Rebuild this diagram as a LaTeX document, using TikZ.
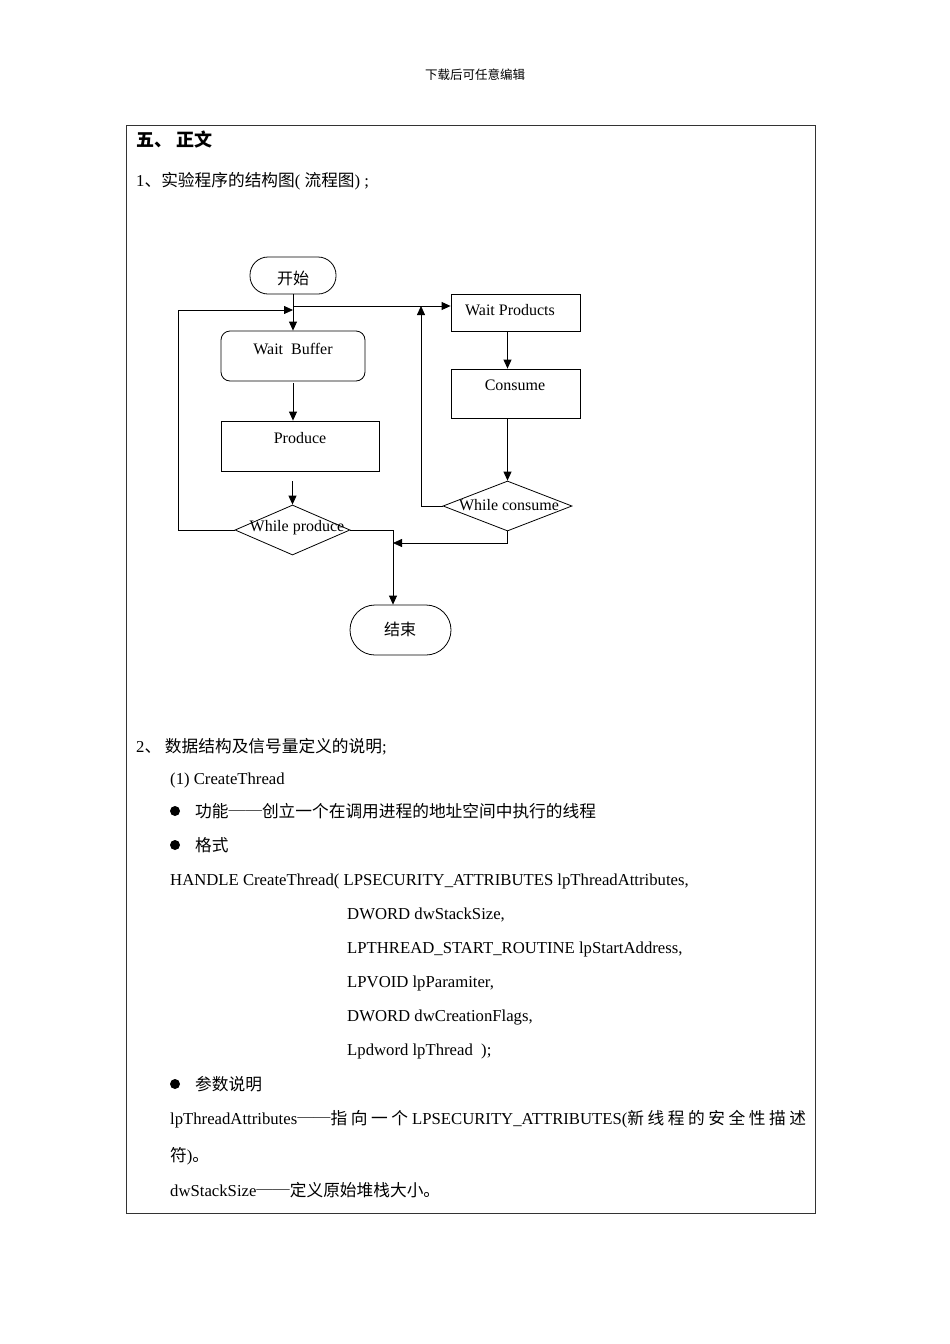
\documentclass[tikz,border=0pt]{standalone}
\usepackage{fontspec}
\setmainfont{Liberation Serif}
\newfontfamily\zhfont{Noto Sans CJK SC}
\newcommand\zh[1]{{\zhfont #1}}
\usetikzlibrary{shapes.geometric}
\usetikzlibrary{arrows.meta}
\tikzstyle{process}=[draw, line width=0.8pt, inner sep=0]
\tikzstyle{terminal}=[process, rounded corners=18pt]
\tikzstyle{decision}=[process, diamond]
\tikzstyle{line}=[line width=0.8pt]
\tikzstyle{flow}=[line, -{Triangle[length=9pt,width=8pt]}]
\tikzstyle{label}=[font=\fontsize{16}{18}\selectfont]
\tikzstyle{txt}=[anchor=base west, inner sep=0, font=\fontsize{16.7}{20}\selectfont]
\tikzstyle{dot}=[circle, fill, inner sep=0, minimum size=10pt]

\begin{document}
\begin{tikzpicture}[x=1pt, y=-1pt]
      \useasboundingbox (0,0) rectangle (950,1344);

      \node[txt, anchor=base, font=\fontsize{12.5}{14}\selectfont] (header) at (475,79) {\zh{下载后可任意编辑}};
      \draw[line, black!80] (126,125) rectangle (815,1213);

      \node[txt, font=\fontsize{18}{20}\selectfont] (title) at (136,146) {\zh{\bfseries 五、 正文}};
      \node[txt] (sec1) at (136,186) {1\zh{、实验程序的结构图}( \zh{流程图}) ;};

      % flow chart
      \node[terminal, minimum width=86pt, minimum height=37pt] (start) at (293,275.5) {};
      \node[label] at (293,278) {\zh{开始}};

      \node[process, rounded corners=9pt, minimum width=144pt, minimum height=50pt] (waitbuf) at (293,356) {};
      \node[label] at (293,349) {Wait\ \ Buffer};

      \node[process, minimum width=158pt, minimum height=50pt] (produce) at (300,446) {};
      \node[label] at (300,438) {Produce};

      \node[decision, minimum width=115pt, minimum height=50pt] (whileprod) at (292.5,530) {};
      \node[label] at (297,528) {While produce};

      \node[process, minimum width=129pt, minimum height=37pt] (waitprod) at (515.5,312.5) {};
      \node[label] at (510,310) {Wait Products};

      \node[process, minimum width=129pt, minimum height=49pt] (consume) at (515.5,393.5) {};
      \node[label] at (515,385) {Consume};

      \node[decision, minimum width=129pt, minimum height=50pt] (whilecons) at (507.5,506) {};
      \node[label] at (509,505) {While consume};

      \node[terminal, rounded corners=25pt, minimum width=101pt, minimum height=50pt] (end) at (400.5,630) {};
      \node[label] at (400,629) {\zh{结束}};

      \coordinate (split) at (293,306);
      \coordinate (loopL) at (178,310);
      \coordinate (loopR) at (421,306);
      \coordinate (merge) at (393,543);

      \draw[flow] (start.south) -- (waitbuf.north);
      \draw[flow] (split) -- (split -| waitprod.west);
      \draw[flow] (whileprod.west) -| (loopL) -- (waitbuf.north |- loopL);
      \draw[flow] ([yshift=-2pt]waitbuf.south) -- (waitbuf.south |- produce.north);
      \draw[flow] ([yshift=-10pt]produce.south -| whileprod.north) -- (whileprod.north);
      \draw[flow] (waitprod.south -| whilecons.north) -- (consume.north -| whilecons.north);
      \draw[flow] (consume.south -| whilecons.north) -- (whilecons.north);
      \draw[flow] (whilecons.west) -- (loopR |- whilecons.west) -- (loopR);
      \draw[flow] (whilecons.south) |- (merge);
      \draw[flow] (whileprod.east) -| (merge |- end.north);

      % description
      \node[txt] (sec2) at (136,752) {2\zh{、 数据结构及信号量定义的说明};};
      \node[txt] (ct) at (170,784) {(1) CreateThread};
      \node[dot] (b1) at (175,811) {};
      \node[txt] (func) at (195,817) {\zh{功能──创立一个在调用进程的地址空间中执行的线程}};
      \node[dot] (b2) at (175,845) {};
      \node[txt] (fmt) at (195,851) {\zh{格式}};
      \node[txt] (p0) at (170,885) {HANDLE CreateThread( LPSECURITY\_ATTRIBUTES lpThreadAttributes,};
      \node[txt] (p1) at (347,919) {DWORD dwStackSize,};
      \node[txt] (p2) at (347,953) {LPTHREAD\_START\_ROUTINE lpStartAddress,};
      \node[txt] (p3) at (347,987) {LPVOID lpParamiter,};
      \node[txt] (p4) at (347,1021) {DWORD dwCreationFlags,};
      \node[txt] (p5) at (347,1055) {Lpdword lpThread\ \ );};
      \node[dot] (b3) at (175,1084) {};
      \node[txt] (args) at (195,1090) {\zh{参数说明}};
      \node[txt] (a1) at (170,1124) {\makebox[636pt][s]{lpThreadAttributes\zh{──指 向 一 个} LPSECURITY\_ATTRIBUTES(\zh{新 线 程 的 安 全 性 描 述}}};
      \node[txt] (a1b) at (170,1161) {\zh{符})\zh{。}};
      \node[txt] (a2) at (170,1196) {dwStackSize\zh{──定义原始堆栈大小。}};
\end{tikzpicture}
\end{document}
